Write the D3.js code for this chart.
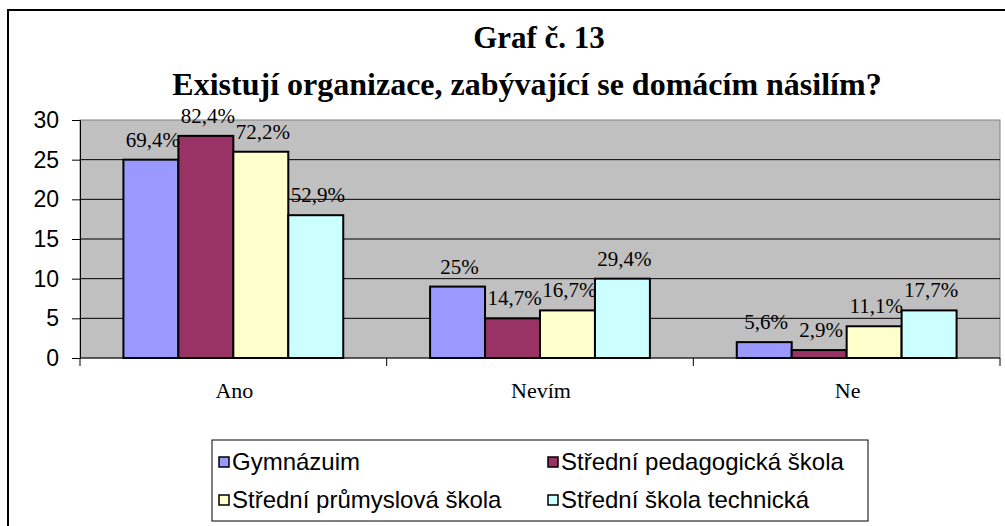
<!DOCTYPE html>
<html><head><meta charset="utf-8">
<script src="https://cdn.jsdelivr.net/npm/d3@7"></script>
<style>body{margin:0;background:#fff;} svg{display:block;}</style>
</head><body>
<svg id="c" width="1005" height="526"></svg>
<script>
const categories = ["Ano", "Nevím", "Ne"];
const seriesNames = ["Gymnázuim", "Střední pedagogická škola", "Střední průmyslová škola", "Střední škola technická"];
const gymnazium = [25, 9, 2];
const pedagogicka = [28, 5, 1];
const prumyslova = [26, 6, 4];
const technicka = [18, 10, 6];
const gymnaziumPct = ["69,4%", "25%", "5,6%"];
const pedagogickaPct = ["82,4%", "14,7%", "2,9%"];
const prumyslovaPct = ["72,2%", "16,7%", "11,1%"];
const technickaPct = ["52,9%", "29,4%", "17,7%"];
const colors = ["#9999FF", "#993366", "#FFFFCC", "#CCFFFF"];
const yTicks = [0, 5, 10, 15, 20, 25, 30];
const title1 = "Graf č. 13";
const title2 = "Existují organizace, zabývající se domácím násilím?";

const values = [gymnazium, pedagogicka, prumyslova, technicka];
const pcts = [gymnaziumPct, pedagogickaPct, prumyslovaPct, technickaPct];

const svg = d3.select("#c");
const serif = "'Liberation Serif','Times New Roman',serif";
const sans = "'Liberation Sans',Arial,sans-serif";

// outer frame
svg.append("rect").attr("x", 8).attr("y", 10).attr("width", 1020).attr("height", 540)
  .attr("fill", "#fff").attr("stroke", "#000").attr("stroke-width", 2);

// titles
svg.append("text").attr("x", 539).attr("y", 48).attr("text-anchor", "middle")
  .attr("font-family", serif).attr("font-weight", "bold").attr("font-size", 31).text(title1);
svg.append("text").attr("x", 527).attr("y", 95).attr("text-anchor", "middle")
  .attr("font-family", serif).attr("font-weight", "bold").attr("font-size", 32).text(title2);

const L = 80, R = 1000, T = 120, B = 358;
const x0 = d3.scaleBand().domain(categories).range([L, R]).padding(0);
const x1 = d3.scaleBand().domain(seriesNames).range([0, x0.bandwidth()]).paddingInner(0).paddingOuter(0.79);
const y = d3.scaleLinear().domain([0, 30]).range([B, T]);

// plot area
svg.append("rect").attr("x", L).attr("y", T).attr("width", R - L).attr("height", B - T)
  .attr("fill", "#C0C0C0").attr("stroke", "#808080").attr("stroke-width", 1);

// gridlines
svg.append("g").selectAll("line").data(yTicks.filter(t => t > 0 && t < 30)).join("line")
  .attr("x1", L).attr("x2", R).attr("y1", d => y(d)).attr("y2", d => y(d))
  .attr("stroke", "#000").attr("stroke-width", 1);

// y axis
const yAxis = svg.append("g").attr("transform", `translate(${L},0)`)
  .call(d3.axisLeft(y).tickValues(yTicks).tickSize(8).tickPadding(13));
yAxis.select(".domain").attr("stroke", "#000");
yAxis.selectAll("text").attr("font-family", sans).attr("font-size", 23).attr("fill", "#000");

// bars
values.forEach((vals, si) => {
  svg.append("g").selectAll("rect").data(vals).join("rect")
    .attr("x", (d, i) => x0(categories[i]) + x1(seriesNames[si]))
    .attr("y", d => y(d))
    .attr("width", x1.bandwidth())
    .attr("height", d => B - y(d))
    .attr("fill", colors[si]).attr("stroke", "#000").attr("stroke-width", 2);
});

// x axis
const xAxis = svg.append("g").attr("transform", `translate(0,${B})`);
xAxis.append("line").attr("x1", L).attr("x2", R).attr("y1", 0).attr("y2", 0).attr("stroke", "#000").attr("stroke-width", 1);
const bounds = [L].concat(categories.map(c => x0(c) + x0.bandwidth()));
xAxis.selectAll("line.t").data(bounds).join("line").attr("class", "t")
  .attr("x1", d => d).attr("x2", d => d).attr("y1", 0).attr("y2", 8).attr("stroke", "#000");
xAxis.selectAll("text").data(categories).join("text")
  .attr("x", d => x0(d) + x0.bandwidth() / 2 + 1).attr("y", 40).attr("text-anchor", "middle")
  .attr("font-family", serif).attr("font-size", 22).text(d => d);

// data labels
pcts.forEach((labs, si) => {
  svg.append("g").selectAll("text").data(labs).join("text")
    .attr("x", (d, i) => x0(categories[i]) + x1(seriesNames[si]) + x1.bandwidth() / 2 + 2)
    .attr("y", (d, i) => y(values[si][i]) - 13)
    .attr("text-anchor", "middle").attr("font-family", serif).attr("font-size", 21).attr("fill", "#000")
    .text(d => d);
});

// legend
const lg = svg.append("g");
lg.append("rect").attr("x", 212).attr("y", 440).attr("width", 656).attr("height", 81)
  .attr("fill", "#fff").attr("stroke", "#000").attr("stroke-width", 1);
const legPos = [[219, 462], [548, 462], [219, 500], [548, 500]];
seriesNames.forEach((n, i) => {
  const [lx, ly] = legPos[i];
  lg.append("rect").attr("x", lx).attr("y", ly - 5).attr("width", 10).attr("height", 10)
    .attr("fill", colors[i]).attr("stroke", "#000").attr("stroke-width", 1.5);
  lg.append("text").attr("x", lx + 13).attr("y", ly + 8).attr("font-family", sans).attr("font-size", 24).text(n);
});
</script>
</body></html>
